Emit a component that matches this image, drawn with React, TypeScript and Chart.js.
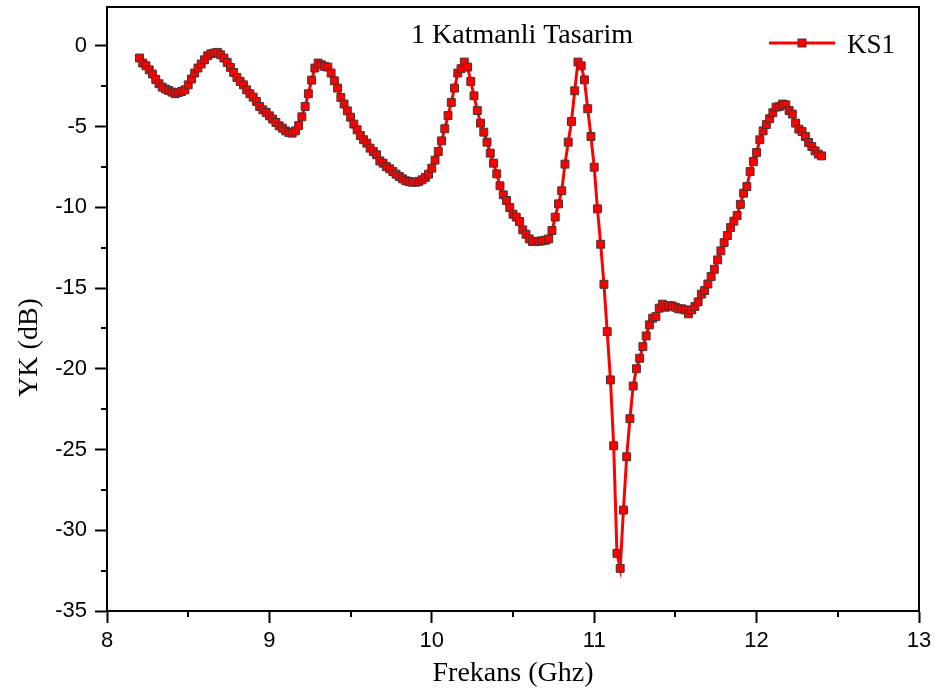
import React, { useEffect, useRef } from 'react';
import { Chart, registerables } from 'chart.js';

Chart.register(...registerables);

const chartTitle = '1 Katmanli Tasarim';
const seriesLabel = 'KS1';
const xAxisTitle = 'Frekans (Ghz)';
const yAxisTitle = 'YK (dB)';

const freqGHz = [
  8.2, 8.22, 8.24, 8.26, 8.28, 8.3, 8.32, 8.34, 8.36, 8.38,
  8.4, 8.42, 8.44, 8.46, 8.48, 8.5, 8.52, 8.54, 8.56, 8.58,
  8.6, 8.62, 8.64, 8.66, 8.68, 8.7, 8.72, 8.74, 8.76, 8.78,
  8.8, 8.82, 8.84, 8.86, 8.88, 8.9, 8.92, 8.94, 8.96, 8.98,
  9.0, 9.02, 9.04, 9.06, 9.08, 9.1, 9.12, 9.14, 9.16, 9.18,
  9.2, 9.22, 9.24, 9.26, 9.28, 9.3, 9.32, 9.34, 9.36, 9.38,
  9.4, 9.42, 9.44, 9.46, 9.48, 9.5, 9.52, 9.54, 9.56, 9.58,
  9.6, 9.62, 9.64, 9.66, 9.68, 9.7, 9.72, 9.74, 9.76, 9.78,
  9.8, 9.82, 9.84, 9.86, 9.88, 9.9, 9.92, 9.94, 9.96, 9.98,
  10.0, 10.02, 10.04, 10.06, 10.08, 10.1, 10.12, 10.14, 10.16, 10.18,
  10.2, 10.22, 10.24, 10.26, 10.28, 10.3, 10.32, 10.34, 10.36, 10.38,
  10.4, 10.42, 10.44, 10.46, 10.48, 10.5, 10.52, 10.54, 10.56, 10.58,
  10.6, 10.62, 10.64, 10.66, 10.68, 10.7, 10.72, 10.74, 10.76, 10.78,
  10.8, 10.82, 10.84, 10.86, 10.88, 10.9, 10.92, 10.94, 10.96, 10.98,
  11.0, 11.02, 11.04, 11.06, 11.08, 11.1, 11.12, 11.14, 11.16, 11.18,
  11.2, 11.22, 11.24, 11.26, 11.28, 11.3, 11.32, 11.34, 11.36, 11.38,
  11.4, 11.42, 11.44, 11.46, 11.48, 11.5, 11.52, 11.54, 11.56, 11.58,
  11.6, 11.62, 11.64, 11.66, 11.68, 11.7, 11.72, 11.74, 11.76, 11.78,
  11.8, 11.82, 11.84, 11.86, 11.88, 11.9, 11.92, 11.94, 11.96, 11.98,
  12.0, 12.02, 12.04, 12.06, 12.08, 12.1, 12.12, 12.14, 12.16, 12.18,
  12.2, 12.22, 12.24, 12.26, 12.28, 12.3, 12.32, 12.34, 12.36, 12.38,
  12.4,
];

const ykDb = [
  -0.76, -1.07, -1.24, -1.49, -1.75, -2.08, -2.35, -2.56, -2.68, -2.77,
  -2.87, -2.97, -2.89, -2.83, -2.73, -2.42, -2.06, -1.69, -1.38, -1.13,
  -0.87, -0.62, -0.5, -0.45, -0.41, -0.56, -0.76, -1.03, -1.34, -1.65,
  -1.96, -2.21, -2.42, -2.73, -2.97, -3.18, -3.45, -3.76, -3.97, -4.13,
  -4.34, -4.54, -4.75, -4.96, -5.1, -5.27, -5.37, -5.41, -5.27, -4.94,
  -4.4, -3.76, -2.97, -2.13, -1.38, -1.07, -1.18, -1.28, -1.32, -1.69,
  -2.17, -2.62, -3.2, -3.61, -4.03, -4.42, -4.85, -5.2, -5.56, -5.82,
  -6.03, -6.34, -6.55, -6.75, -7.13, -7.27, -7.48, -7.62, -7.79, -7.95,
  -8.1, -8.24, -8.36, -8.41, -8.45, -8.45, -8.4, -8.3, -8.15, -7.95,
  -7.58, -7.08, -6.55, -5.89, -5.14, -4.32, -3.51, -2.62, -1.69, -1.42,
  -1.01, -1.32, -2.21, -3.1, -4.01, -4.79, -5.35, -5.97, -6.65, -7.27,
  -7.93, -8.67, -9.23, -9.58, -10.02, -10.43, -10.61, -10.88, -11.4, -11.67,
  -11.96, -12.12, -12.12, -12.1, -12.08, -12.04, -11.96, -11.44, -10.61, -9.79,
  -8.98, -7.33, -5.97, -4.69, -2.79, -1.01, -1.24, -2.11, -3.9, -5.62,
  -7.52, -10.1, -12.29, -14.77, -17.7, -20.69, -24.77, -31.43, -32.36, -28.75,
  -25.45, -23.09, -21.07, -20.0, -19.35, -18.63, -17.97, -17.28, -16.87, -16.77,
  -16.25, -16.0, -16.19, -16.09, -16.11, -16.19, -16.29, -16.29, -16.36, -16.6,
  -16.36, -16.15, -15.86, -15.38, -15.16, -14.75, -14.29, -13.84, -13.26, -12.7,
  -12.19, -11.75, -11.26, -10.86, -10.51, -9.82, -9.13, -8.72, -7.79, -7.17,
  -6.61, -5.82, -5.27, -4.88, -4.52, -4.15, -3.8, -3.76, -3.61, -3.66,
  -4.01, -4.23, -4.79, -5.16, -5.31, -5.62, -5.99, -6.24, -6.51, -6.71,
  -6.82,
];

const xRange = [8, 13];
const yRange = [-35, 2.4];
const xMajorStep = 1;
const yMajorStep = 5;

const RED = '#ff0000';
const MARKER_EDGE = '#4a3030';

function isMultiple(v: number, step: number) {
  const r = Math.abs(v / step - Math.round(v / step));
  return r < 1e-6;
}

export default function App() {
  const canvasRef = useRef<HTMLCanvasElement>(null);

  useEffect(() => {
    document.body.style.margin = '0';
    const canvas = canvasRef.current;
    if (!canvas) return;

    const decorPlugin = {
      id: 'decor',
      afterDraw(chart: any) {
        const { ctx, chartArea } = chart;
        const xs = chart.scales.x;
        const ys = chart.scales.y;
        ctx.save();
        // frame (top / right sides)
        ctx.strokeStyle = '#000';
        ctx.lineWidth = 2;
        ctx.beginPath();
        ctx.moveTo(chartArea.left, chartArea.top);
        ctx.lineTo(chartArea.right, chartArea.top);
        ctx.lineTo(chartArea.right, chartArea.bottom);
        ctx.stroke();
        // minor ticks
        ys.ticks.forEach((t: any) => {
          if (!isMultiple(t.value, yMajorStep)) {
            const py = Math.round(ys.getPixelForValue(t.value));
            ctx.beginPath();
            ctx.moveTo(chartArea.left - 6, py);
            ctx.lineTo(chartArea.left, py);
            ctx.stroke();
          }
        });
        xs.ticks.forEach((t: any) => {
          if (!isMultiple(t.value, xMajorStep)) {
            const px = Math.round(xs.getPixelForValue(t.value));
            ctx.beginPath();
            ctx.moveTo(px, chartArea.bottom);
            ctx.lineTo(px, chartArea.bottom + 6);
            ctx.stroke();
          }
        });
        // title inside plot
        ctx.fillStyle = '#000';
        ctx.font = '28px "Liberation Serif", "Times New Roman", serif';
        ctx.textAlign = 'center';
        ctx.textBaseline = 'alphabetic';
        ctx.fillText(chartTitle, chartArea.left + 415, chartArea.top + 36);
        // legend
        const ds = chart.data.datasets[0];
        const ly = chartArea.top + 36;
        const lx0 = chartArea.right - 150;
        const lx1 = chartArea.right - 84;
        ctx.strokeStyle = ds.borderColor;
        ctx.lineWidth = 3;
        ctx.beginPath();
        ctx.moveTo(lx0, ly);
        ctx.lineTo(lx1, ly);
        ctx.stroke();
        const mx = (lx0 + lx1) / 2;
        ctx.fillStyle = ds.pointBackgroundColor;
        ctx.strokeStyle = ds.pointBorderColor;
        ctx.lineWidth = 1;
        ctx.fillRect(mx - 4, ly - 4, 8, 8);
        ctx.strokeRect(mx - 4, ly - 4, 8, 8);
        ctx.fillStyle = '#000';
        ctx.font = '27px "Liberation Serif", "Times New Roman", serif';
        ctx.textAlign = 'left';
        ctx.fillText(ds.label, chartArea.right - 72, chartArea.top + 46);
        ctx.restore();
      },
    };

    const chart = new Chart(canvas, {
      type: 'line',
      data: {
        datasets: [
          {
            label: seriesLabel,
            data: freqGHz.map((f, i) => ({ x: f, y: ykDb[i] })),
            borderColor: RED,
            backgroundColor: RED,
            borderWidth: 3,
            pointStyle: 'rect',
            pointRadius: 5.6,
            pointBackgroundColor: RED,
            pointBorderColor: MARKER_EDGE,
            pointBorderWidth: 1,
            tension: 0,
            fill: false,
          },
        ],
      },
      options: {
        animation: false,
        responsive: true,
        maintainAspectRatio: false,
        layout: { padding: { top: 7, right: 18, left: 0, bottom: 0 } },
        plugins: {
          legend: { display: false },
          title: { display: false },
          tooltip: { enabled: false },
        },
        scales: {
          x: {
            type: 'linear',
            min: xRange[0],
            max: xRange[1],
            afterFit: (s: any) => {
              s.height = 82;
              s.paddingLeft = 0;
              s.paddingRight = 0;
            },
            ticks: {
              stepSize: 0.5,
              includeBounds: false,
              color: '#000',
              padding: 5,
              maxRotation: 0,
              autoSkip: false,
              font: { family: '"Liberation Sans", Arial, sans-serif', size: 22 },
              callback: (v: any) => (isMultiple(Number(v), xMajorStep) ? String(Number(v)) : ''),
            },
            grid: {
              display: true,
              drawOnChartArea: false,
              drawTicks: true,
              tickLength: 12,
              tickWidth: 2,
              tickColor: (c: any) => (c.tick && isMultiple(c.tick.value, xMajorStep) ? '#000' : 'rgba(0,0,0,0)'),
            },
            border: { display: true, color: '#000', width: 2 },
            title: {
              display: true,
              text: xAxisTitle,
              color: '#000',
              font: { family: '"Liberation Serif", "Times New Roman", serif', size: 28 },
              padding: { top: 0, bottom: 3 },
            },
          },
          y: {
            type: 'linear',
            min: yRange[0],
            max: yRange[1],
            afterFit: (s: any) => {
              s.width = 107;
              s.paddingTop = 0;
              s.paddingBottom = 0;
            },
            ticks: {
              stepSize: 2.5,
              includeBounds: false,
              color: '#000',
              padding: 8,
              autoSkip: false,
              font: { family: '"Liberation Sans", Arial, sans-serif', size: 22 },
              callback: (v: any) => (isMultiple(Number(v), yMajorStep) ? String(Number(v)) : ''),
            },
            grid: {
              display: true,
              drawOnChartArea: false,
              drawTicks: true,
              tickLength: 12,
              tickWidth: 2,
              tickColor: (c: any) => (c.tick && isMultiple(c.tick.value, yMajorStep) ? '#000' : 'rgba(0,0,0,0)'),
            },
            border: { display: true, color: '#000', width: 2 },
            title: {
              display: true,
              text: yAxisTitle + '           ',
              color: '#000',
              font: { family: '"Liberation Serif", "Times New Roman", serif', size: 28 },
              padding: { top: 13, bottom: 0 },
            },
          },
        },
      },
      plugins: [decorPlugin],
    });

    return () => chart.destroy();
  }, []);

  return (
    <div style={{ position: 'fixed', left: 0, top: 0, width: 937, height: 693, background: '#fff' }}>
      <canvas ref={canvasRef} />
    </div>
  );
}
